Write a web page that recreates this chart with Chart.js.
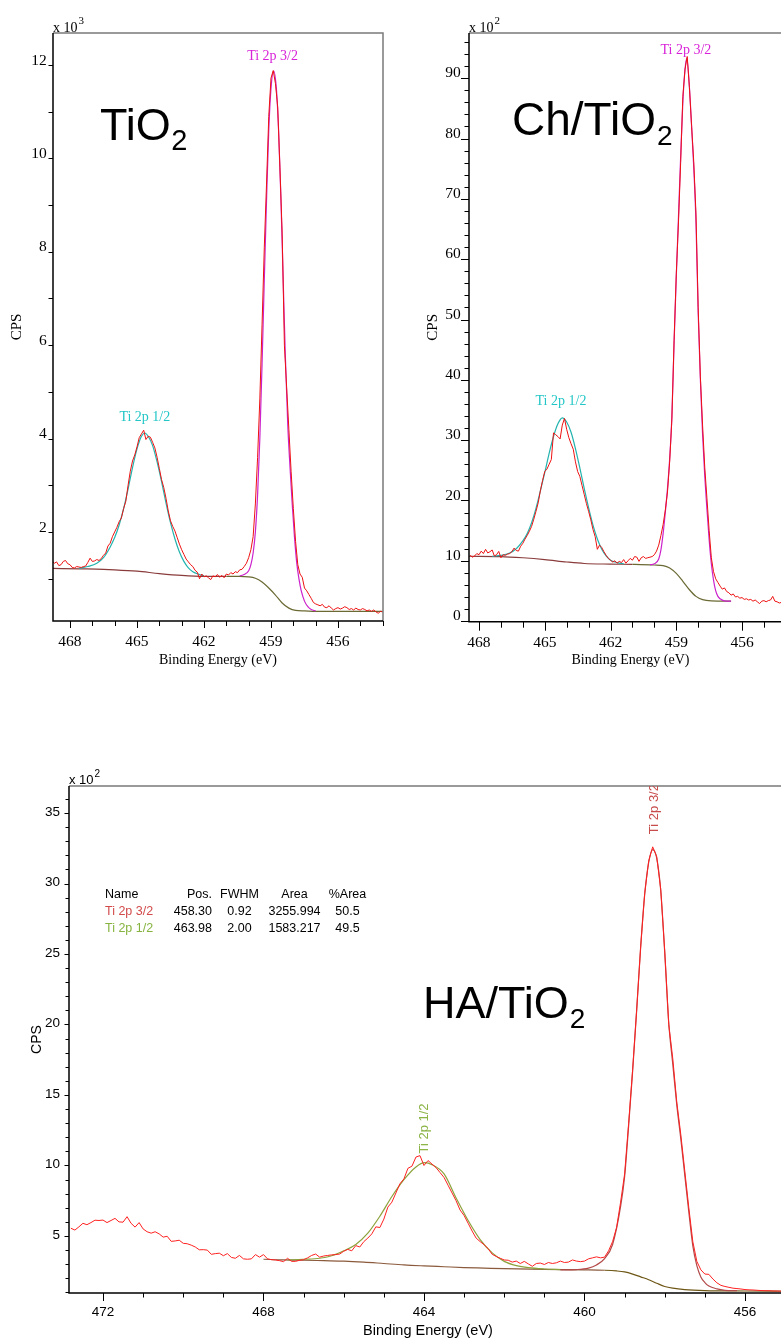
<!DOCTYPE html>
<html><head><meta charset="utf-8">
<script src="https://cdn.jsdelivr.net/npm/chart.js@4.4.1/dist/chart.umd.min.js"></script>
<style>
html,body{margin:0;padding:0;background:#fff;width:781px;height:1340px;overflow:hidden;position:relative}
canvas{position:absolute}
</style></head><body>
<canvas id="c1" width="400" height="680" style="left:0;top:0;width:400px;height:680px"></canvas>
<canvas id="c2" width="400" height="680" style="left:420px;top:0;width:400px;height:680px"></canvas>
<canvas id="c3" width="800" height="620" style="left:0;top:740px;width:800px;height:620px"></canvas>
<script>
// ---------------- Panel 1: TiO2 (CPS x10^3) ----------------
const tio2Start = 468.8, tio2Step = 0.1;
const tio2Cps = [1.38,1.33,1.36,1.28,1.30,1.37,1.39,1.32,1.30,
1.24,1.23,1.26,1.25,1.24,1.26,1.27,1.35,1.44,1.37,
1.38,1.41,1.39,1.43,1.50,1.55,1.70,1.76,1.90,2.00,
2.10,2.22,2.30,2.50,2.66,3.00,3.30,3.52,3.65,3.82,
4.02,4.10,4.18,3.98,4.05,4.03,3.92,3.80,3.60,3.36,
3.12,2.95,2.72,2.45,2.24,2.12,2.02,1.88,1.74,1.62,
1.52,1.42,1.36,1.30,1.26,1.18,1.14,1.00,1.10,1.04,
1.06,1.02,0.98,1.06,1.04,1.09,1.03,1.07,1.02,1.10,
1.08,1.13,1.10,1.15,1.13,1.19,1.20,1.26,1.33,1.45,
1.62,1.90,2.60,3.60,4.85,6.45,8.10,9.45,10.90,11.72,
11.88,11.60,11.10,9.80,8.40,6.00,5.10,4.20,3.30,2.50,
1.80,1.30,1.10,1.03,0.80,0.74,0.66,0.58,0.49,0.46,
0.44,0.42,0.45,0.39,0.38,0.42,0.37,0.33,0.36,0.38,
0.35,0.37,0.40,0.38,0.34,0.36,0.33,0.37,0.34,0.33,
0.36,0.34,0.31,0.33,0.30,0.33,0.29,0.26,0.30,0.29];
const tio2BgE = [468.8,467.5,466.5,466,465,464,463,462,461,460.4,460,459.7,459.4,459.1,458.8,458.5,458.2,457.9,457.5,457,454];
const tio2BgCps = [1.22,1.21,1.20,1.19,1.16,1.11,1.07,1.05,1.05,1.05,1.04,1.01,0.93,0.80,0.65,0.48,0.37,0.32,0.31,0.30,0.30];
const tio2P32E = [460.4,460.2,460.0,459.9,459.8,459.7,459.6,459.5,459.4,459.3,459.2,459.1,459.0,458.88,458.76,458.66,458.56,458.46,458.36,458.25,458.15,458.05,457.95,457.85,457.75,457.65,457.5,457.35,457.2,457.0];
const tio2P32Cps = [1.06,1.09,1.17,1.30,1.55,2.00,2.80,4.00,5.60,7.40,9.10,10.60,11.50,11.87,11.50,10.60,9.20,7.50,5.80,4.30,3.40,2.60,1.90,1.35,1.00,0.75,0.52,0.40,0.34,0.31];
const tio2P12E = [467.6,467.2,466.8,466.5,466.2,466.0,465.8,465.6,465.4,465.2,465.0,464.8,464.65,464.5,464.3,464.1,463.9,463.7,463.5,463.3,463.1,462.9,462.7,462.5,462.2,462.0];
const tio2P12Cps = [1.22,1.26,1.33,1.45,1.68,1.88,2.15,2.50,2.92,3.38,3.78,4.05,4.12,4.05,3.85,3.50,3.08,2.62,2.20,1.85,1.57,1.37,1.23,1.15,1.09,1.06];
const tio2XTicks = [454,455,456,457,458,459,460,461,462,463,464,465,466,467,468];
const tio2XLabels = [468,465,462,459,456];
const tio2YTicks = [1,2,3,4,5,6,7,8,9,10,11,12];
const tio2YLabels = [2,4,6,8,10,12];

// ---------------- Panel 2: Ch/TiO2 (CPS x10^2) ----------------
const chStart = 468.4, chStep = 0.1;
const chCps = [10.9,10.6,10.8,11.2,11.0,
11.6,11.2,11.9,11.3,11.5,11.8,10.8,11.0,11.55,10.5,
11.0,10.9,11.1,11.2,11.5,12.1,11.7,11.6,12.4,12.9,
13.6,14.2,14.9,15.7,16.9,18.2,19.6,21.6,23.3,24.8,
25.2,26.0,26.8,31.2,30.9,30.6,30.2,32.5,33.6,31.8,
30.4,29.4,28.5,26.4,24.8,24.0,22.5,21.0,19.5,18.2,
16.8,15.2,14.0,11.9,12.6,12.2,11.5,10.9,10.4,10.1,
9.8,10.0,9.6,9.9,9.7,10.2,9.6,10.0,10.4,10.1,
10.7,10.6,9.9,10.5,10.7,10.4,10.5,10.6,10.7,11.0,
11.6,12.6,14.2,16.0,18.4,21.4,26.5,33.5,46.5,57.5,
66.0,76.0,87.0,91.5,93.6,88.5,82.0,76.0,67.5,52.0,
40.5,32.5,25.5,20.3,15.0,10.5,8.2,7.0,6.4,5.8,
5.3,5.5,4.9,4.7,4.3,4.5,4.0,4.1,3.8,3.9,
3.6,3.7,3.5,3.6,3.3,3.5,3.2,2.9,3.3,3.4,
3.2,3.4,3.5,4.1,3.3,3.2,3.0,3.1,3.0,3.1];
const chBgE = [468.46,467,466,465,464,463.2,462,461,460,459.6,459.3,459,458.7,458.4,458.1,457.8,457.4,456.5];
const chBgCps = [10.75,10.7,10.5,10.2,9.8,9.55,9.45,9.4,9.3,9.2,8.8,7.9,6.6,5.2,4.1,3.55,3.35,3.3];
const chP32E = [460.2,460,459.8,459.7,459.6,459.5,459.4,459.3,459.2,459.1,459,458.9,458.8,458.7,458.6,458.52,458.4,458.3,458.2,458.1,458,457.9,457.8,457.7,457.6,457.5,457.4,457.3,457.2,457.1,457,456.8,456.5];
const chP32Cps = [9.35,9.5,10.3,11.8,14.5,18,22,27,34,46,57,67,77,86,91.5,93.3,88.5,82,75,66,51,40,31,24,18.5,13.5,9.5,6.8,5.0,4.1,3.7,3.35,3.3];
const chP12E = [467.4,467,466.6,466.3,466,465.8,465.6,465.4,465.2,465,464.8,464.6,464.4,464.2,464,463.8,463.6,463.4,463.2,463,462.8,462.6,462.4,462.2,462,461.7,461.4];
const chP12Cps = [10.75,10.9,11.3,12.0,13.3,14.5,16.3,18.7,21.6,24.6,27.8,30.6,32.7,33.7,33.0,31.3,28.6,25.4,22.0,18.8,15.9,13.6,11.9,10.8,10.1,9.7,9.5];
const chXTicks = [454,455,456,457,458,459,460,461,462,463,464,465,466,467,468];
const chXLabels = [468,465,462,459,456];
const chYTicks = [0,2,4,6,8,10,12,14,16,18,20,22,24,26,28,30,32,34,36,38,40,42,44,46,48,50,52,54,56,58,60,62,64,66,68,70,72,74,76,78,80,82,84,86,88,90,92,94,96];
const chYLabels = [0,10,20,30,40,50,60,70,80,90];

// ---------------- Panel 3: HA/TiO2 (CPS x10^2) ----------------
const haStart = 472.8, haStep = 0.1;
const haCps = [5.55,5.42,5.65,5.90,5.80,5.95,6.12,6.10,6.13,
5.95,6.10,6.25,6.00,5.98,6.37,5.90,5.63,5.95,5.50,
5.30,5.20,5.30,5.15,4.92,4.98,4.62,4.65,4.70,4.48,
4.45,4.35,4.22,4.02,4.03,4.00,3.70,3.75,3.78,3.60,
3.75,3.48,3.42,3.62,3.38,3.35,3.38,3.68,3.50,3.68,
3.38,3.32,3.30,3.25,3.18,3.42,3.20,3.20,3.28,3.32,
3.45,3.62,3.72,3.50,3.58,3.62,3.66,3.68,3.72,3.92,
4.05,3.95,4.32,4.22,4.60,4.85,5.15,5.65,5.60,6.20,
7.05,7.40,8.05,8.70,9.05,9.80,9.95,10.60,10.70,10.00,
10.35,10.10,9.85,9.50,9.15,8.60,8.05,7.50,6.84,6.45,
5.90,5.35,4.85,4.60,4.38,4.10,3.70,3.55,3.42,3.30,
3.28,3.15,3.22,3.05,3.20,3.02,2.85,3.05,3.08,2.98,
3.12,3.05,3.10,3.22,3.12,3.15,3.30,3.22,3.18,3.22,
3.38,3.45,3.52,3.45,3.50,3.95,4.60,5.60,7.40,9.40,
13.0,16.8,21.0,25.5,29.3,31.6,32.6,31.9,29.6,25.2,
20.0,17.6,14.5,12.2,9.6,7.0,4.6,3.2,2.6,2.3,
2.28,1.95,1.68,1.50,1.42,1.36,1.30,1.27,1.24,1.20,
1.18,1.17,1.15,1.13,1.12,1.12,1.10,1.10,1.09,1.05];
const haBgE = [468,467.5,467,466.5,466,465.5,465,464.5,464,463.5,463,462.5,462,461,460,459.5,459.2,459,458.8,458.6,458.4,458.2,458,457.8,457.5,457,456,455];
const haBgCps = [3.35,3.3,3.28,3.25,3.22,3.15,3.05,2.95,2.88,2.82,2.76,2.72,2.68,2.63,2.6,2.57,2.52,2.45,2.3,2.1,1.9,1.65,1.42,1.3,1.2,1.13,1.1,1.08];
const haP32E = [460.6,460.2,459.9,459.7,459.5,459.3,459.1,459,458.9,458.8,458.7,458.6,458.5,458.4,458.3,458.2,458.1,458,457.9,457.8,457.7,457.6,457.5,457.4,457.3,457.2,457.1,457,456.9,456.7,456.5,456.2];
const haP32Cps = [2.6,2.62,2.72,2.95,3.4,4.4,7.1,9.2,12.8,16.7,21,25.5,29.2,31.5,32.4,31.8,29.5,25.1,20.1,17.2,14.3,11.9,9.3,6.7,4.3,2.9,2.1,1.7,1.45,1.25,1.15,1.12];
const haP12E = [467.4,467,466.6,466.3,466,465.7,465.4,465.1,464.8,464.5,464.2,463.98,463.8,463.5,463.2,462.9,462.6,462.3,462,461.7,461.4,461,460.6];
const haP12Cps = [3.3,3.35,3.42,3.6,3.95,4.4,5.2,6.4,7.8,9.0,9.9,10.2,10.05,9.4,7.7,6.1,4.75,3.8,3.2,2.9,2.75,2.66,2.62];
const haXTicks = [455,456,457,458,459,460,461,462,463,464,465,466,467,468,469,470,471,472];
const haXLabels = [472,468,464,460,456];
const haYTicks = [1,2,3,4,5,6,7,8,9,10,11,12,13,14,15,16,17,18,19,20,21,22,23,24,25,26,27,28,29,30,31,32,33,34,35,36];
const haYLabels = [5,10,15,20,25,30,35];

// fit table (HA/TiO2)
const fitHeader = ['Name','Pos.','FWHM','Area','%Area'];
const fitNames = ['Ti 2p 3/2','Ti 2p 1/2'];
const fitPos = ['458.30','463.98'];
const fitFwhm = ['0.92','2.00'];
const fitArea = ['3255.994','1583.217'];
const fitPct = ['50.5','49.5'];

// ---------------- helpers ----------------
function gridPoints(start, step, vals){ return vals.map((v,i)=>({x: Math.round((start - i*step)*100)/100, y: v})); }
function pairPoints(es, vs){ return es.map((e,i)=>({x:e, y:vs[i]})); }

const SERIF = 'Liberation Serif', SANS = 'Liberation Sans';

function drawText(ctx, t, chart){
  const a = chart.chartArea;
  ctx.save();
  let px = t.x, py = t.y;
  if (t.data) { px = chart.scales.x.getPixelForValue(t.x); py = chart.scales.y.getPixelForValue(t.y); }
  if (t.clip) { ctx.beginPath(); ctx.rect(a.left, a.top, a.right-a.left, a.bottom-a.top); ctx.clip(); }
  ctx.font = t.font; ctx.fillStyle = t.color || '#000';
  ctx.textAlign = t.align || 'left'; ctx.textBaseline = t.baseline || 'alphabetic';
  ctx.translate(px, py);
  if (t.rotate) ctx.rotate(t.rotate);
  ctx.fillText(t.text, 0, 0);
  if (t.sub) {
    const w = ctx.measureText(t.text).width;
    ctx.font = t.sub.font; ctx.textAlign = 'left';
    ctx.fillText(t.sub.text, w + (t.sub.dx||0), t.sub.dy||0);
  }
  ctx.restore();
}

function makeDecor(cfg){
  return {
    id: 'decor',
    afterDraw(chart){
      const ctx = chart.ctx, a = chart.chartArea, xs = chart.scales.x, ys = chart.scales.y;
      ctx.save();
      ctx.strokeStyle = '#000'; ctx.lineWidth = 1;
      ctx.beginPath();
      cfg.xTicks.forEach(v => {
        const px = Math.round(xs.getPixelForValue(v)) + 0.5;
        if (px < a.left - 1 || px > a.right + 1) return;
        const len = cfg.xLabels.includes(v) ? cfg.xMajorLen : cfg.xMinorLen;
        ctx.moveTo(px, a.bottom); ctx.lineTo(px, a.bottom + len);
      });
      cfg.yTicks.forEach(v => {
        const py = Math.round(ys.getPixelForValue(v)) + 0.5;
        const len = cfg.yLabels.includes(v) ? cfg.yMajorLen : cfg.yMinorLen;
        ctx.moveTo(a.left, py); ctx.lineTo(a.left - len, py);
      });
      ctx.stroke();
      ctx.lineWidth = 1.5;
      ctx.strokeStyle = '#7a7a7a';
      ctx.beginPath(); ctx.moveTo(a.left, a.top); ctx.lineTo(a.right, a.top); ctx.lineTo(a.right, a.bottom); ctx.stroke();
      ctx.strokeStyle = '#000';
      ctx.beginPath(); ctx.moveTo(a.left, a.top); ctx.lineTo(a.left, a.bottom); ctx.lineTo(a.right, a.bottom); ctx.stroke();
      ctx.restore();
      cfg.texts.forEach(t => drawText(ctx, t, chart));
    }
  };
}

function makePanel(id, cfg){
  const ctx = document.getElementById(id).getContext('2d');
  return new Chart(ctx, {
    type: 'line',
    data: { datasets: cfg.datasets },
    options: {
      responsive: false, animation: false, devicePixelRatio: 1, events: [],
      layout: { padding: { left: 0, top: cfg.padTop, right: cfg.padRight, bottom: 0 } },
      plugins: { legend: { display: false }, tooltip: { enabled: false } },
      elements: { point: { radius: 0 }, line: { borderWidth: 1 } },
      scales: {
        x: {
          type: 'linear', reverse: true, min: cfg.xMin, max: cfg.xMax,
          afterBuildTicks: s => { s.ticks = cfg.xLabels.map(v => ({ value: v })); },
          afterFit: s => { s.height = cfg.xAxisH; },
          grid: { display: false, drawTicks: false },
          border: { display: false },
          ticks: { autoSkip: false, maxRotation: 0, padding: cfg.xTickPad, color: '#000',
                   font: { family: cfg.family, size: cfg.tickSize } },
          title: { display: true, text: 'Binding Energy (eV)', color: '#000',
                   font: { family: cfg.family, size: cfg.xTitleSize }, padding: { top: 0, bottom: cfg.xTitlePad } }
        },
        y: {
          type: 'linear', min: cfg.yMin, max: cfg.yMax,
          afterBuildTicks: s => { s.ticks = cfg.yLabels.map(v => ({ value: v })); },
          afterFit: s => { s.width = cfg.yAxisW; },
          grid: { display: false, drawTicks: false },
          border: { display: false },
          ticks: { autoSkip: false, padding: cfg.yTickPad, labelOffset: cfg.yLabelOffset, color: '#000',
                   font: { family: cfg.family, size: cfg.tickSize } },
          title: { display: true, text: 'CPS', color: '#000',
                   font: { family: cfg.family, size: cfg.yTitleSize }, padding: { top: cfg.yTitlePad, bottom: 0 } }
        }
      }
    },
    plugins: [makeDecor(cfg)]
  });
}

const lineDs = (data, color, width, smooth, extra) => Object.assign({
  data, borderColor: color, borderWidth: width, fill: false, pointRadius: 0,
  cubicInterpolationMode: smooth ? 'monotone' : 'default', tension: 0
}, extra || {});

// ---------------- Panel 1 ----------------
makePanel('c1', {
  family: SERIF, tickSize: 15.5, xTitleSize: 14, yTitleSize: 15,
  padTop: 33, padRight: 17, xAxisH: 59, yAxisW: 53,
  xTickPad: 12, xTitlePad: 11.6, yTickPad: 6.3, yLabelOffset: -4.5, yTitlePad: 8.5,
  xMin: 453.985, xMax: 468.761, yMin: 0.094, yMax: 12.685,
  xTicks: tio2XTicks, xLabels: tio2XLabels, yTicks: tio2YTicks, yLabels: tio2YLabels,
  xMajorLen: 7, xMinorLen: 5, yMajorLen: 4.5, yMinorLen: 4.5,
  datasets: [
    lineDs(gridPoints(tio2Start, tio2Step, tio2Cps), '#ee1111', 1, false),
    lineDs(pairPoints(tio2P32E, tio2P32Cps), '#cc22cc', 1.2, true),
    lineDs(pairPoints(tio2P12E, tio2P12Cps), '#22b3ae', 1.2, true),
    lineDs(pairPoints(tio2BgE, tio2BgCps), '#6b6a34', 1.2, true,
      { segment: { borderColor: c => c.p0.parsed.x > 461.5 ? '#8a3c3c' : '#6b6a34' } })
  ],
  texts: [
    { text: 'x 10', x: 53, y: 32, font: '14px "Liberation Serif"', sub: { text: '3', font: '11px "Liberation Serif"', dx: 1, dy: -8 } },
    { text: 'TiO', x: 100, y: 140, font: '45px "Liberation Sans"', sub: { text: '2', font: '29px "Liberation Sans"', dx: 0.5, dy: 10 } },
    { text: 'Ti 2p 3/2', data: true, x: 458.93, y: 12.19, font: '14px "Liberation Serif"', color: '#d822d8', align: 'center', baseline: 'middle', clip: true },
    { text: 'Ti 2p 1/2', data: true, x: 464.65, y: 4.46, font: '14px "Liberation Serif"', color: '#22c6c6', align: 'center', baseline: 'middle', clip: true }
  ]
});

// ---------------- Panel 2 ----------------
makePanel('c2', {
  family: SERIF, tickSize: 15.5, xTitleSize: 14, yTitleSize: 15,
  padTop: 33, padRight: 28, xAxisH: 58.3, yAxisW: 49,
  xTickPad: 12, xTitlePad: 11.6, yTickPad: 8.3, yLabelOffset: -5, yTitlePad: 4.5,
  xMin: 453.72, xMax: 468.456, yMin: -0.1, yMax: 97.5,
  xTicks: chXTicks, xLabels: chXLabels, yTicks: chYTicks, yLabels: chYLabels,
  xMajorLen: 9, xMinorLen: 6, yMajorLen: 8, yMinorLen: 4.5,
  datasets: [
    lineDs(gridPoints(chStart, chStep, chCps), '#ee1111', 1, false),
    lineDs(pairPoints(chP32E, chP32Cps), '#cc22cc', 1.2, true),
    lineDs(pairPoints(chP12E, chP12Cps), '#22b3ae', 1.2, true),
    lineDs(pairPoints(chBgE, chBgCps), '#6b6a34', 1.2, true,
      { segment: { borderColor: c => c.p0.parsed.x > 461.5 ? '#8a3c3c' : '#6b6a34' } })
  ],
  texts: [
    { text: 'x 10', x: 49, y: 32, font: '14px "Liberation Serif"', sub: { text: '2', font: '11px "Liberation Serif"', dx: 1, dy: -8 } },
    { text: 'Ch/TiO', x: 92, y: 135, font: '46px "Liberation Sans"', sub: { text: '2', font: '28px "Liberation Sans"', dx: 1, dy: 10 } },
    { text: 'Ti 2p 3/2', data: true, x: 458.56, y: 94.67, font: '14px "Liberation Serif"', color: '#d822d8', align: 'center', baseline: 'middle', clip: true },
    { text: 'Ti 2p 1/2', data: true, x: 464.26, y: 36.5, font: '14px "Liberation Serif"', color: '#22c6c6', align: 'center', baseline: 'middle', clip: true }
  ]
});

// ---------------- Panel 3 ----------------
const tableFont = '12.5px "Liberation Sans"';
const rowY = [155, 172, 189];
const haTexts = [
  { text: 'x 10', x: 69, y: 44, font: '13px "Liberation Sans"', sub: { text: '2', font: '10px "Liberation Sans"', dx: 1, dy: -7 } },
  { text: 'HA/TiO', x: 423, y: 278, font: '45px "Liberation Sans"', sub: { text: '2', font: '28px "Liberation Sans"', dx: 1, dy: 10 } },
  { text: 'Ti 2p 3/2', data: true, x: 458.26, y: 33.5, font: '13px "Liberation Sans"', color: '#c84c4c', align: 'left', baseline: 'middle', rotate: -Math.PI/2, clip: true },
  { text: 'Ti 2p 1/2', data: true, x: 463.98, y: 10.85, font: '13px "Liberation Sans"', color: '#8cb446', align: 'left', baseline: 'middle', rotate: -Math.PI/2, clip: true },
  { text: fitHeader[0], x: 105, y: rowY[0], font: tableFont, baseline: 'middle' },
  { text: fitHeader[1], x: 212, y: rowY[0], font: tableFont, baseline: 'middle', align: 'right' },
  { text: fitHeader[2], x: 239.5, y: rowY[0], font: tableFont, baseline: 'middle', align: 'center' },
  { text: fitHeader[3], x: 294.5, y: rowY[0], font: tableFont, baseline: 'middle', align: 'center' },
  { text: fitHeader[4], x: 347.5, y: rowY[0], font: tableFont, baseline: 'middle', align: 'center' }
];
const rowColors = ['#d24a4a', '#86b33f'];
fitNames.forEach((n, i) => {
  const y = rowY[i+1];
  haTexts.push({ text: n, x: 105, y, font: tableFont, baseline: 'middle', color: rowColors[i] });
  haTexts.push({ text: fitPos[i], x: 212, y, font: tableFont, baseline: 'middle', align: 'right' });
  haTexts.push({ text: fitFwhm[i], x: 239.5, y, font: tableFont, baseline: 'middle', align: 'center' });
  haTexts.push({ text: fitArea[i], x: 294.5, y, font: tableFont, baseline: 'middle', align: 'center' });
  haTexts.push({ text: fitPct[i], x: 347.5, y, font: tableFont, baseline: 'middle', align: 'center' });
});

makePanel('c3', {
  family: SANS, tickSize: 13.5, xTitleSize: 14.5, yTitleSize: 14,
  padTop: 46, padRight: 13, xAxisH: 67, yAxisW: 69,
  xTickPad: 11, xTitlePad: 20, yTickPad: 9, yLabelOffset: -1, yTitlePad: 29,
  xMin: 454.953, xMax: 472.847, yMin: 0.957, yMax: 36.915,
  xTicks: haXTicks, xLabels: haXLabels, yTicks: haYTicks, yLabels: haYLabels,
  xMajorLen: 8, xMinorLen: 4.5, yMajorLen: 4.5, yMinorLen: 3.5,
  datasets: [
    lineDs(gridPoints(haStart, haStep, haCps), '#ff2020', 1, false),
    lineDs(pairPoints(haP32E, haP32Cps), '#b34a4a', 1.2, true),
    lineDs(pairPoints(haP12E, haP12Cps), '#8ca23c', 1.2, true),
    lineDs(pairPoints(haBgE, haBgCps), '#6e5716', 1.2, true,
      { segment: { borderColor: c => c.p0.parsed.x > 459.5 ? '#8b5a3c' : '#6e5716' } })
  ],
  texts: haTexts
});
</script>
</body></html>
